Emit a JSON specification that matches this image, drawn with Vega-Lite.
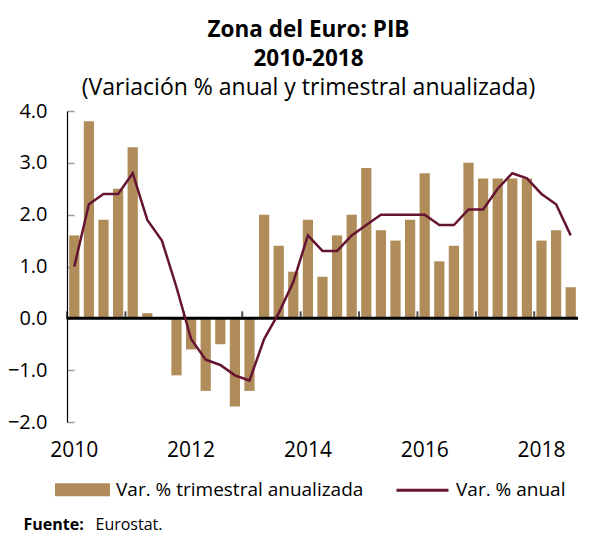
{
  "$schema": "https://vega.github.io/schema/vega-lite/v6.json",
  "width": 511,
  "height": 311,
  "autosize": {"type": "none"},
  "padding": {"left": 67, "top": 111, "right": 27, "bottom": 111},
  "background": "white",
  "config": {"view": {"stroke": null}, "font": "Open Sans"},
  "title": {
    "text": ["Zona del Euro: PIB", "2010-2018"],
    "subtitle": "(Variación % anual y trimestral anualizada)",
    "fontSize": 22.5,
    "fontWeight": "bold",
    "lineHeight": 29,
    "color": "black",
    "subtitleFontSize": 23,
    "subtitleColor": "black",
    "subtitlePadding": 7,
    "anchor": "middle",
    "frame": "group",
    "dx": -14,
    "offset": 1
  },
  "data": {
    "values": [
      {"q": "2010Q1", "trim": 1.6, "anual": 1.0},
      {"q": "2010Q2", "trim": 3.8, "anual": 2.2},
      {"q": "2010Q3", "trim": 1.9, "anual": 2.4},
      {"q": "2010Q4", "trim": 2.5, "anual": 2.4},
      {"q": "2011Q1", "trim": 3.3, "anual": 2.8},
      {"q": "2011Q2", "trim": 0.1, "anual": 1.9},
      {"q": "2011Q3", "trim": 0.0, "anual": 1.5},
      {"q": "2011Q4", "trim": -1.1, "anual": 0.6},
      {"q": "2012Q1", "trim": -0.6, "anual": -0.4},
      {"q": "2012Q2", "trim": -1.4, "anual": -0.8},
      {"q": "2012Q3", "trim": -0.5, "anual": -0.9},
      {"q": "2012Q4", "trim": -1.7, "anual": -1.1},
      {"q": "2013Q1", "trim": -1.4, "anual": -1.2},
      {"q": "2013Q2", "trim": 2.0, "anual": -0.4},
      {"q": "2013Q3", "trim": 1.4, "anual": 0.1},
      {"q": "2013Q4", "trim": 0.9, "anual": 0.7},
      {"q": "2014Q1", "trim": 1.9, "anual": 1.6},
      {"q": "2014Q2", "trim": 0.8, "anual": 1.3},
      {"q": "2014Q3", "trim": 1.6, "anual": 1.3},
      {"q": "2014Q4", "trim": 2.0, "anual": 1.6},
      {"q": "2015Q1", "trim": 2.9, "anual": 1.8},
      {"q": "2015Q2", "trim": 1.7, "anual": 2.0},
      {"q": "2015Q3", "trim": 1.5, "anual": 2.0},
      {"q": "2015Q4", "trim": 1.9, "anual": 2.0},
      {"q": "2016Q1", "trim": 2.8, "anual": 2.0},
      {"q": "2016Q2", "trim": 1.1, "anual": 1.8},
      {"q": "2016Q3", "trim": 1.4, "anual": 1.8},
      {"q": "2016Q4", "trim": 3.0, "anual": 2.1},
      {"q": "2017Q1", "trim": 2.7, "anual": 2.1},
      {"q": "2017Q2", "trim": 2.7, "anual": 2.5},
      {"q": "2017Q3", "trim": 2.7, "anual": 2.8},
      {"q": "2017Q4", "trim": 2.7, "anual": 2.7},
      {"q": "2018Q1", "trim": 1.5, "anual": 2.4},
      {"q": "2018Q2", "trim": 1.7, "anual": 2.2},
      {"q": "2018Q3", "trim": 0.6, "anual": 1.6}
    ]
  },
  "layer": [
    {
      "mark": {"type": "bar"},
      "encoding": {
        "x": {
          "field": "q", "type": "ordinal", "title": "Eurostat.",
          "scale": {"paddingInner": 0.3, "paddingOuter": 0.15},
          "axis": {
            "labelExpr": "slice(datum.value,4)=='Q1' && toNumber(slice(datum.value,0,4))%2==0 ? slice(datum.value,0,4) : ''",
            "ticks": false, "domain": false, "labelAngle": 0,
            "labelFontSize": 21, "labelPadding": 17, "labelColor": "black",
            "labelOverlap": false,
            "titleFontSize": 16, "titleFontWeight": "normal", "titleColor": "black",
            "titleX": 28, "titleY": 107, "titleAlign": "left", "titleBaseline": "alphabetic", "titleAngle": 0
          }
        },
        "y": {
          "field": "trim", "type": "quantitative", "title": "Fuente:",
          "scale": {"domain": [-2, 4], "nice": false, "zero": false},
          "axis": {
            "values": [-2, -1, 0, 1, 2, 3, 4], "format": ".1f", "grid": false,
            "domainColor": "black", "domainWidth": 1.2,
            "tickColor": "#9a9a9a", "tickSize": -7, "tickWidth": 1.5,
            "labelFontSize": 20, "labelColor": "black", "labelPadding": 27,
            "titleFontSize": 16, "titleFontWeight": "bold", "titleColor": "black",
            "titleAngle": 0, "titleX": -44, "titleY": 418, "titleAlign": "left", "titleBaseline": "alphabetic"
          }
        },
        "color": {
          "datum": "Var. % trimestral anualizada",
          "scale": {"domain": ["Var. % trimestral anualizada", "Var. % anual"], "range": ["#B08C5B", "#651432"]},
          "legend": {
            "orient": "none", "direction": "horizontal", "title": null,
            "legendX": -12, "legendY": 351, "padding": 0,
            "symbolSize": 2704, "labelOffset": 6, "columnPadding": 26,
            "labelFontSize": 19, "labelColor": "black", "labelLimit": 400,
            "encode": {
              "symbols": {
                "update": {
                  "shape": {"signal": "datum.value == 'Var. % anual' ? 'M-1,0L1,0' : 'M-1,-0.19L1,-0.19L1,0.19L-1,0.19Z'"},
                  "fill": {"signal": "datum.value == 'Var. % anual' ? 'transparent' : '#B08C5B'"},
                  "stroke": {"signal": "datum.value == 'Var. % anual' ? '#651432' : 'transparent'"},
                  "strokeWidth": {"value": 3},
                  "opacity": {"value": 1}
                }
              }
            }
          }
        }
      }
    },
    {
      "data": {"values": [{"cero": 0}]},
      "mark": {"type": "rule", "color": "black", "strokeWidth": 3},
      "encoding": {"y": {"field": "cero", "type": "quantitative", "title": "Fuente:"}}
    },
    {
      "transform": [{"filter": "slice(datum.q,4)=='Q1'"}],
      "mark": {"type": "tick", "orient": "vertical", "color": "black", "thickness": 2, "size": 8, "yOffset": -3},
      "encoding": {
        "x": {"field": "q", "type": "ordinal", "title": "Eurostat.", "bandPosition": -0.21},
        "y": {"datum": 0, "type": "quantitative", "title": "Fuente:"}
      }
    },
    {
      "mark": {"type": "line", "strokeWidth": 2.5},
      "encoding": {
        "x": {"field": "q", "type": "ordinal", "title": "Eurostat."},
        "y": {"field": "anual", "type": "quantitative", "title": "Fuente:"},
        "color": {"datum": "Var. % anual"}
      }
    }
  ]
}
